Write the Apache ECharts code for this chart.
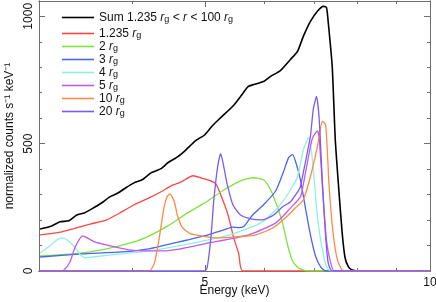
<!DOCTYPE html>
<html><head><meta charset="utf-8">
<script src="https://cdn.jsdelivr.net/npm/echarts@6/dist/echarts.min.js"></script>
<style>html,body{margin:0;padding:0;background:#fff}#c{width:436px;height:302px}</style>
</head><body><div id="c"></div>
<script>
// Energy (keV) vs normalized counts s^-1 keV^-1
const sumData = [[3.01,165],[3.12,177],[3.20,193],[3.29,197],[3.37,220],[3.45,228],[3.53,244],[3.64,268],[3.73,291],[3.83,307],[3.92,327],[4.02,346],[4.12,358],[4.24,386],[4.37,402],[4.46,425],[4.58,445],[4.69,469],[4.86,512],[5.0,535],[5.12,571],[5.25,602],[5.46,650],[5.58,685],[5.71,724],[5.81,732],[5.99,744],[6.12,764],[6.31,787],[6.51,831],[6.65,862],[6.77,921],[6.92,980],[7.07,1020],[7.20,1039],[7.27,1035],[7.31,976],[7.40,803],[7.47,516],[7.54,346],[7.63,150],[7.70,51],[7.78,16],[7.87,4],[8.07,0],[10,0]];
const r1235Data = [[3.01,142],[3.22,154],[3.33,165],[3.52,185],[3.69,200],[3.87,232],[4.02,260],[4.21,287],[4.37,311],[4.51,335],[4.65,350],[4.82,374],[4.94,366],[5.09,354],[5.17,343],[5.25,299],[5.37,220],[5.46,134],[5.55,67],[5.62,0],[10,0]];
const r2Data = [[3.01,59],[3.32,67],[3.64,83],[4.02,114],[4.24,142],[4.46,177],[4.74,228],[5.05,276],[5.28,315],[5.58,354],[5.81,366],[5.99,358],[6.12,319],[6.25,252],[6.35,189],[6.45,102],[6.55,39],[6.67,12],[6.86,0],[10,0]];
const r3Data = [[3.01,55],[3.42,67],[3.87,75],[4.21,87],[4.55,110],[5.05,142],[5.30,161],[5.45,172],[5.55,170],[5.64,176],[5.79,220],[5.99,260],[6.22,315],[6.37,390],[6.47,445],[6.55,457],[6.63,417],[6.71,358],[6.81,252],[6.92,142],[7.03,59],[7.14,16],[7.25,0],[10,0]];
const r4Data = [[3.01,71],[3.10,98],[3.17,122],[3.22,130],[3.27,122],[3.34,98],[3.40,67],[3.46,52],[3.58,57],[3.87,67],[4.21,79],[4.44,90],[5.06,122],[5.50,150],[5.97,193],[6.27,252],[6.51,319],[6.65,370],[6.77,476],[6.88,524],[6.96,440],[7.07,213],[7.18,83],[7.29,10],[7.40,0],[10,0]];
const r5Data = [[3.01,0],[3.20,0],[3.24,4],[3.30,35],[3.35,91],[3.40,126],[3.43,138],[3.48,130],[3.56,114],[3.65,106],[3.75,98],[3.96,83],[4.21,79],[4.44,79],[5.06,110],[5.72,142],[6.22,189],[6.51,248],[6.71,291],[6.77,340],[6.86,430],[6.96,520],[7.07,550],[7.11,520],[7.20,280],[7.27,120],[7.36,35],[7.45,0],[10,0]];
const r10Data = [[3.01,0],[4.21,0],[4.28,31],[4.34,122],[4.41,252],[4.45,291],[4.49,303],[4.55,272],[4.60,213],[4.67,169],[4.79,146],[4.94,138],[5.17,130],[5.50,134],[5.85,142],[6.16,169],[6.41,209],[6.61,248],[6.77,280],[6.92,370],[7.07,488],[7.18,587],[7.25,575],[7.29,470],[7.33,331],[7.42,150],[7.52,43],[7.63,4],[7.73,0],[10,0]];
const r20Data = [[3.01,0],[4.98,0],[5.03,8],[5.09,122],[5.14,280],[5.20,409],[5.25,461],[5.30,409],[5.35,346],[5.45,260],[5.58,220],[5.76,205],[5.97,201],[6.18,220],[6.35,252],[6.51,272],[6.65,310],[6.71,331],[6.77,386],[6.92,530],[6.98,634],[7.05,685],[7.11,594],[7.18,346],[7.25,140],[7.31,31],[7.40,0],[10,0]];

const seriesKeys = ['sum','1.235','2','3','4','5','10','20'];
const seriesData = [sumData, r1235Data, r2Data, r3Data, r4Data, r5Data, r10Data, r20Data];
const seriesColors = ['#000000','#ff4545','#7ee33c','#4a64ee','#8cf2e0','#c459f0','#ff8a45','#7a5cf2'];
const legendLabels = {
  'sum': '{n|Sum 1.235 }{i|r}{s|g}{n| < }{i|r}{n| < 100 }{i|r}{s|g}',
  '1.235': '{n|1.235 }{i|r}{s|g}',
  '2': '{n|2 }{i|r}{s|g}',
  '3': '{n|3 }{i|r}{s|g}',
  '4': '{n|4 }{i|r}{s|g}',
  '5': '{n|5 }{i|r}{s|g}',
  '10': '{n|10 }{i|r}{s|g}',
  '20': '{n|20 }{i|r}{s|g}'
};
const xMajorTicks = [5, 10];
const xMinorTicks = [4, 6, 7, 8, 9];
const yMajorTicks = [0, 500, 1000];
const yMinorTicks = [100, 200, 300, 400, 600, 700, 800, 900];

const FONT = 'Liberation Sans, Arial, Helvetica, sans-serif';
const AX = '#6e6e6e';
const rich = {
  n: {fontSize: 12, fontFamily: FONT, color: '#111', lineHeight: 13},
  i: {fontSize: 12, fontFamily: FONT, color: '#111', fontStyle: 'italic', lineHeight: 13},
  s: {fontSize: 9, fontFamily: FONT, color: '#111', lineHeight: 9, verticalAlign: 'bottom', padding: [4, 0, 0, 0]}
};

function xAx(pos, ticks, len, labels, extra) {
  return Object.assign({
    type: 'log', logBase: 10, min: 3, max: 10, position: pos,
    axisLine: {show: true, onZero: false, lineStyle: {color: AX, width: 1}},
    axisTick: {show: true, inside: true, length: len, customValues: ticks, lineStyle: {color: AX}},
    axisLabel: labels ? {show: true, customValues: labels, fontSize: 12, fontFamily: FONT, color: '#111', margin: 6, formatter: v => String(v)} : {show: false},
    splitLine: {show: false}, minorTick: {show: false}
  }, extra || {});
}
function yAx(pos, ticks, len, labels, extra) {
  return Object.assign({
    type: 'value', min: 0, max: 1060, position: pos,
    axisLine: {show: true, onZero: false, lineStyle: {color: AX, width: 1}},
    axisTick: {show: true, inside: true, length: len, customValues: ticks, lineStyle: {color: AX}},
    axisLabel: labels ? {show: true, customValues: labels, rotate: 90, fontSize: 12, fontFamily: FONT, color: '#111', margin: 4, formatter: v => String(v)} : {show: false},
    splitLine: {show: false}
  }, extra || {});
}

const legendBase = {orient: 'vertical', left: 57, itemWidth: 32, itemHeight: 1.6, itemGap: 0, icon: 'rect',
  formatter: n => legendLabels[n], textStyle: {rich: rich}};

const chart = echarts.init(document.getElementById('c'), null, {renderer: 'canvas'});
chart.setOption({
  animation: false,
  backgroundColor: '#fff',
  grid: {left: 39, right: 6, top: 1, bottom: 31, containLabel: false, outerBoundsMode: 'none'},
  xAxis: [
    xAx('bottom', xMajorTicks, 6, xMajorTicks, {name: 'Energy (keV)', nameLocation: 'middle', nameGap: 14, nameMoveOverlap: false, nameTextStyle: {fontSize: 12, fontFamily: FONT, color: '#111'}}),
    xAx('bottom', xMinorTicks, 3, null),
    xAx('top', xMajorTicks, 6, null),
    xAx('top', xMinorTicks, 3, null)
  ],
  yAxis: [
    yAx('left', yMajorTicks, 6, yMajorTicks, {name: 'normalized counts s\u207B\u00B9 keV\u207B\u00B9', nameLocation: 'middle', nameGap: 23, nameMoveOverlap: false, nameTextStyle: {fontSize: 12, fontFamily: FONT, color: '#111'}}),
    yAx('left', yMinorTicks, 3, null),
    yAx('right', yMajorTicks, 6, null),
    yAx('right', yMinorTicks, 3, null)
  ],
  legend: [
    Object.assign({data: [seriesKeys[0]], top: 6}, legendBase),
    Object.assign({data: seriesKeys.slice(1), top: 22}, legendBase)
  ],
  series: seriesKeys.map((k, i) => ({
    name: k, type: 'line', xAxisIndex: 0, yAxisIndex: 0,
    data: seriesData[i], showSymbol: false, symbol: 'none', smooth: 0.2,
    lineStyle: {color: seriesColors[i], width: i === 0 ? 1.6 : 1.3},
    itemStyle: {color: seriesColors[i]},
    z: 2 + i
  }))
});
</script></body></html>
